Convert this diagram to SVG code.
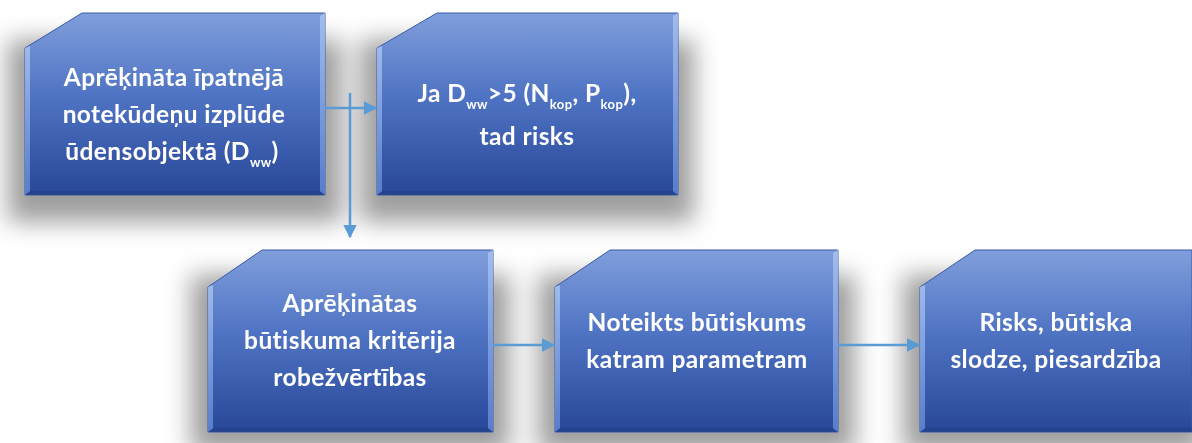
<svg xmlns="http://www.w3.org/2000/svg" width="1192" height="443" viewBox="0 0 1192 443">
<defs>
<linearGradient id="fillG" x1="0" y1="0" x2="0" y2="1">
<stop offset="0" stop-color="#7f9edb"/>
<stop offset="0.45" stop-color="#5074c4"/>
<stop offset="1" stop-color="#284798"/>
</linearGradient>
<linearGradient id="edgeG" x1="0" y1="0" x2="0" y2="1">
<stop offset="0" stop-color="#a9c2f0"/>
<stop offset="1" stop-color="#5f86d4"/>
</linearGradient>
<filter id="blur" x="-30%" y="-30%" width="160%" height="160%">
<feGaussianBlur stdDeviation="12"/>
</filter>
<marker id="arr" viewBox="0 0 10 10" refX="9" refY="5" markerWidth="5.5" markerHeight="5.5" orient="auto" markerUnits="strokeWidth">
<path d="M0,0 L10,5 L0,10 Z" fill="#5b9bd5"/>
</marker>
<style>
.node{fill:url(#fillG);stroke:#3a5aa8;stroke-width:1}
.bev{fill:url(#edgeG);opacity:0.85}
.bot{fill:#233f85;opacity:0.6}
.txt{font-family:Lato,"Open Sans","Liberation Sans",sans-serif;font-weight:700;font-size:24.5px;fill:#ffffff;text-anchor:middle;letter-spacing:0.4px}
.sub{font-size:13px}
.con{fill:none;stroke:#5b9bd5;stroke-width:2.5}
.sh{fill:#000;opacity:0.38}
</style>
</defs>
<rect width="1192" height="443" fill="#ffffff"/>
<g id="shadows" filter="url(#blur)">
<rect class="sh" x="8" y="40" width="334" height="182"/>
<rect class="sh" x="360" y="40" width="334" height="182"/>
<rect class="sh" x="191" y="275" width="319" height="178"/>
<rect class="sh" x="538" y="275" width="317" height="178"/>
<rect class="sh" x="903" y="275" width="302" height="178"/>
</g>
<g id="node1">
<path class="node" d="M82,13 H325 V195 H25 V48 Z"/>
<path class="bev" d="M25,48 L30,46 L30,192 L25,195 Z"/>
<path class="bev" d="M320,16 L325,13 L325,195 L320,192 Z"/>
<path class="bot" d="M25,195 L30,191 L320,191 L325,195 Z"/>
<text class="txt" x="174" y="86">Aprēķināta īpatnējā</text>
<text class="txt" x="174" y="123">notekūdeņu izplūde</text>
<text class="txt" x="172" y="160">ūdensobjektā (D<tspan class="sub" dy="7">ww</tspan><tspan dy="-7">)</tspan></text>
</g>
<g id="node2">
<path class="node" d="M437,13 H678 V195 H377 V48 Z"/>
<path class="bev" d="M377,48 L382,46 L382,192 L377,195 Z"/>
<path class="bev" d="M673,16 L678,13 L678,195 L673,192 Z"/>
<path class="bot" d="M377,195 L382,191 L673,191 L678,195 Z"/>
<text class="txt" x="527" y="102">Ja D<tspan class="sub" dy="7">ww</tspan><tspan dy="-7">&gt;5 (N</tspan><tspan class="sub" dy="7">kop</tspan><tspan dy="-7">, P</tspan><tspan class="sub" dy="7">kop</tspan><tspan dy="-7">),</tspan></text>
<text class="txt" x="527" y="145">tad risks</text>
</g>
<g id="node3">
<path class="node" d="M262,250 H493 V432 H208 V287 Z"/>
<path class="bev" d="M208,287 L213,285 L213,429 L208,432 Z"/>
<path class="bev" d="M488,253 L493,250 L493,432 L488,429 Z"/>
<path class="bot" d="M208,432 L213,428 L488,428 L493,432 Z"/>
<text class="txt" x="350" y="312">Aprēķinātas</text>
<text class="txt" x="350" y="349">būtiskuma kritērija</text>
<text class="txt" x="350" y="386">robežvērtības</text>
</g>
<g id="node4">
<path class="node" d="M610,250 H838 V432 H555 V287 Z"/>
<path class="bev" d="M555,287 L560,285 L560,429 L555,432 Z"/>
<path class="bev" d="M833,253 L838,250 L838,432 L833,429 Z"/>
<path class="bot" d="M555,432 L560,428 L833,428 L838,432 Z"/>
<text class="txt" x="697" y="331">Noteikts būtiskums</text>
<text class="txt" x="697" y="368">katram parametram</text>
</g>
<g id="node5">
<path class="node" d="M975,250 H1192 V432 H920 V287 Z"/>
<path class="bev" d="M920,287 L925,285 L925,429 L920,432 Z"/>
<path class="bot" d="M920,432 L925,428 L1192,428 L1192,432 Z"/>
<text class="txt" x="1056" y="331">Risks, būtiska</text>
<text class="txt" x="1056" y="368">slodze, piesardzība</text>
</g>
<g id="connectors">
<path class="con" d="M325,108 H376" marker-end="url(#arr)"/>
<path class="con" d="M350,93 V237" marker-end="url(#arr)"/>
<path class="con" d="M493,345 H554" marker-end="url(#arr)"/>
<path class="con" d="M838,345 H919" marker-end="url(#arr)"/>
</g>
</svg>
